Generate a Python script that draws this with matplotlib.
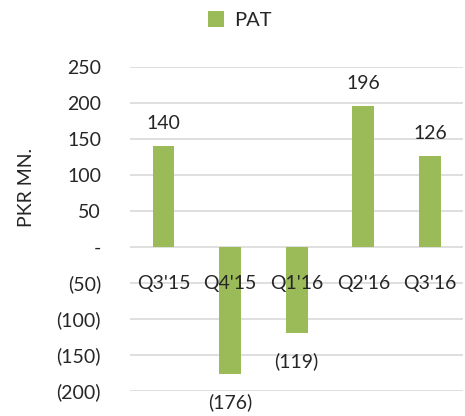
import matplotlib
matplotlib.use("Agg")
import matplotlib.pyplot as plt
from matplotlib.ticker import FuncFormatter

plt.rcParams['font.family'] = ['Lato', 'DejaVu Sans']

categories = ["Q3'15", "Q4'15", "Q1'16", "Q2'16", "Q3'16"]
pat = [140, -176, -119, 196, 126]
yticks = [-200, -150, -100, -50, 0, 50, 100, 150, 200, 250]

bar_color = '#9BBB59'
text_color = '#262626'
fs = 14

fig = plt.figure(figsize=(4.65, 4.16), dpi=100)
ax = fig.add_axes([0.28, 0.06, 0.716, 0.779])

x = list(range(len(categories)))
bars = ax.bar(x, pat, width=0.33, color=bar_color, label='PAT', zorder=3)

ax.set_xlim(-0.5, len(categories) - 0.5)
ax.set_ylim(-200, 250)
ax.set_yticks(yticks)

def fmt(v, pos):
    v = int(round(v))
    if v == 0:
        return '-'
    if v < 0:
        return '(%d)' % (-v)
    return '%d' % v

ax.yaxis.set_major_formatter(FuncFormatter(fmt))
ax.grid(axis='y', color='#D9D9D9', linewidth=1.2, zorder=0)
ax.set_axisbelow(True)

for s in ['top', 'right', 'left', 'bottom']:
    ax.spines[s].set_visible(False)

ax.set_xticks([])
ax.tick_params(axis='y', length=0, pad=21, labelsize=fs, colors=text_color)

for xi, c in zip(x, categories):
    ax.annotate(c, (xi, 0), xytext=(0, -20), textcoords='offset points',
                ha='center', va='top', fontsize=fs, color=text_color, zorder=6)

for xi, v in zip(x, pat):
    if v >= 0:
        ax.annotate(fmt(v, None), (xi, v), xytext=(0, 10), textcoords='offset points',
                    ha='center', va='bottom', fontsize=fs, color=text_color)
    else:
        ax.annotate(fmt(v, None), (xi, v), xytext=(0, -14), textcoords='offset points',
                    ha='center', va='top', fontsize=fs, color=text_color)

fig.text(0.058, 0.55, 'PKR MN.', rotation=90, ha='center', va='center',
         fontsize=fs, color=text_color)

fig.legend(handles=[bars], labels=['PAT'], loc='center', bbox_to_anchor=(0.515, 0.952),
           frameon=False, fontsize=14.5, handlelength=0.8, handleheight=0.8,
           handletextpad=0.5, labelcolor=text_color)

fig.savefig('out.png', dpi=100)
